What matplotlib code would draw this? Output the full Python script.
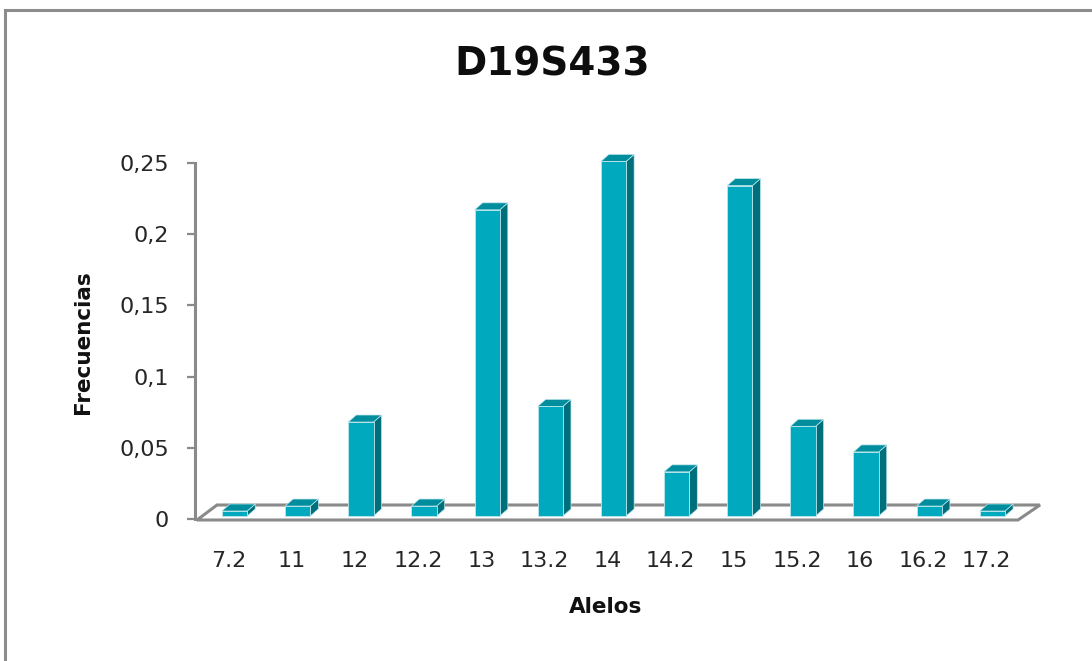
import matplotlib
matplotlib.use("Agg")
import matplotlib.pyplot as plt
from matplotlib.patches import Polygon
from matplotlib.lines import Line2D

# Allele frequencies for locus D19S433
alleles = ["7.2", "11", "12", "12.2", "13", "13.2", "14", "14.2", "15", "15.2", "16", "16.2", "17.2"]
freqs = [0.0035, 0.007, 0.066, 0.007, 0.215, 0.077, 0.249, 0.031, 0.232, 0.063, 0.045, 0.007, 0.0035]
yticks = [0, 0.05, 0.1, 0.15, 0.2, 0.25]
ytick_labels = ["0", "0,05", "0,1", "0,15", "0,2", "0,25"]

W, H = 1092, 661
plt.rcParams["font.family"] = ["DejaVu Sans"]

fig = plt.figure(figsize=(W / 100, H / 100), dpi=100)
fig.patch.set_facecolor("white")


def fx(px):
    return px / W


def fy(py):
    return 1 - py / H


# frame of the chart area
border = "#8c8c8c"
fig.add_artist(Line2D([fx(5), fx(5)], [0, fy(10)], color=border, lw=2.2))
fig.add_artist(Line2D([fx(5), 1], [fy(10), fy(10)], color=border, lw=2.2))

left_px, right_px, top_px, bot_px = 195, 1018, 163, 519
ax = fig.add_axes([fx(left_px), fy(bot_px), fx(right_px) - fx(left_px), fy(top_px) - fy(bot_px)])
cat_px = (1018 - 197) / len(alleles)
ax.set_xlim(-0.5 - 2 / cat_px, len(alleles) - 0.5)
ax.set_ylim(0, 0.25)
ax.patch.set_alpha(0)


def offset(dxp, dyp):
    """Data-space offset equivalent to a shift in display pixels."""
    x0, y0 = ax.transData.transform((0, 0))
    x1, y1 = ax.transData.inverted().transform((x0 + dxp, y0 + dyp))
    return x1, y1


# floor of the 3-D plot
f0x, f0y = offset(0, -1)
fbl = offset(20, 14)
fbr = offset(22, 14)
n = len(alleles)
floor = Polygon([(-0.5, f0y), (n - 0.5, f0y), (n - 0.5 + fbr[0], fbr[1]), (-0.5 + fbl[0], fbl[1])],
                closed=True, facecolor="white", edgecolor="#8a8a8a", lw=2.2, zorder=1, clip_on=False)
ax.add_patch(floor)

# bars with depth
w = 0.4
bx, by = offset(6, 3)
ddx, ddy = offset(8, 7)
front_c, side_c, top_c = "#00A9BD", "#006F7C", "#008E9F"
edge_c = "#bfe6ec"
xs = [i + bx for i in range(n)]
ax.bar(xs, freqs, width=w, bottom=by, color=front_c, edgecolor=edge_c, linewidth=0.6,
       zorder=3, clip_on=False)
for xc, v in zip(xs, freqs):
    xl, xr = xc - w / 2, xc + w / 2
    top = v + by
    side = Polygon([(xr, by), (xr, top), (xr + ddx, top + ddy), (xr + ddx, by + ddy)],
                   closed=True, facecolor=side_c, edgecolor=edge_c, lw=0.5, zorder=2, clip_on=False)
    lid = Polygon([(xl, top), (xr, top), (xr + ddx, top + ddy), (xl + ddx, top + ddy)],
                  closed=True, facecolor=top_c, edgecolor=edge_c, lw=0.5, zorder=2, clip_on=False)
    ax.add_patch(side)
    ax.add_patch(lid)

# axes styling
for s in ["top", "right", "bottom"]:
    ax.spines[s].set_visible(False)
ax.spines["left"].set_color("#8a8a8a")
ax.spines["left"].set_linewidth(2.2)
ax.spines["left"].set_zorder(4)

ax.set_yticks(yticks)
ax.set_yticklabels(ytick_labels)
ax.tick_params(axis="y", direction="out", length=5.8, width=1.6, color="#8a8a8a",
               pad=13, labelsize=16, labelcolor="#262626")
ax.set_xticks(range(n))
ax.set_xticklabels(alleles)
ax.tick_params(axis="x", length=0, pad=23, labelsize=16, labelcolor="#262626")

ax.set_xlabel("Alelos", fontsize=15.5, fontweight="bold", color="#111111")
ax.xaxis.set_label_coords((606 - left_px) / (right_px - left_px), -(607 - bot_px) / (bot_px - top_px))
ax.xaxis.label.set_va("center")
ax.set_ylabel("Frecuencias", fontsize=15.5, fontweight="bold", color="#111111")
ax.yaxis.set_label_coords((83 - left_px) / (right_px - left_px), (bot_px - 342) / (bot_px - top_px))
ax.yaxis.label.set_va("center")

fig.text(fx(552), fy(65), "D19S433", fontsize=28, fontweight="bold", ha="center", va="center",
         color="#0d0d0d")

fig.savefig("out.png", dpi=100, facecolor="white")
